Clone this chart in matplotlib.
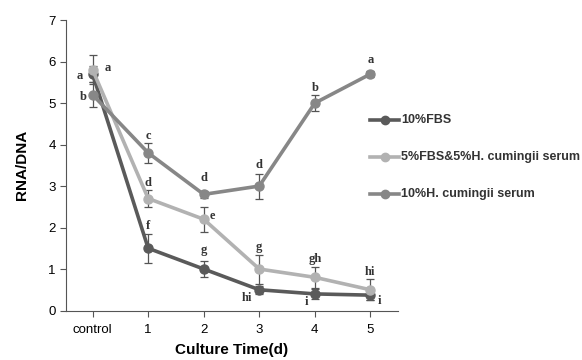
import matplotlib.pyplot as plt
from matplotlib.lines import Line2D

plt.switch_backend('agg')
plt.rcParams['font.family'] = ['Liberation Sans', 'DejaVu Sans']

# datos
days = ['control', '1', '2', '3', '4', '5']
fbs = [5.7, 1.5, 1.0, 0.5, 0.4, 0.37]
fbs_err = [0.2, 0.35, 0.2, 0.1, 0.12, 0.12]
mix = [5.8, 2.7, 2.2, 1.0, 0.8, 0.5]
mix_err = [0.35, 0.2, 0.3, 0.35, 0.25, 0.25]
hc = [5.2, 3.8, 2.8, 3.0, 5.0, 5.7]
hc_err = [0.3, 0.25, 0.08, 0.3, 0.2, 0.08]

fbs_lbl = ['a', 'f', 'g', 'hi', 'i', 'i']
mix_lbl = ['a', 'd', 'e', 'g', 'gh', 'hi']
hc_lbl = ['b', 'c', 'd', 'd', 'b', 'a']

# desplazamiento de las letras (puntos)
fbs_off = [(-9, -1.5), (0, 16), (0, 14), (-9, -6), (-6, -6), (6.5, -4.5)]
mix_off = [(11, 1.5), (0, 11), (6, 2), (0, 16), (0, 13), (0, 12.5)]
hc_off = [(-7, -1.5), (0, 12), (0, 11.5), (0, 15), (0, 11), (0, 10)]

x = list(range(len(days)))

fig = plt.figure(figsize=(5.82, 3.6), dpi=100)
ax = fig.add_axes([0.1134, 0.1375, 0.5706, 0.8065])

series = [
    ('10%FBS', fbs, fbs_err, fbs_lbl, fbs_off, '#5a5a5a'),
    ('5%FBS&5%H. cumingii serum', mix, mix_err, mix_lbl, mix_off, '#b2b2b2'),
    ('10%H. cumingii serum', hc, hc_err, hc_lbl, hc_off, '#878787'),
]

for name, y, err, lbl, off, c in series:
    ax.errorbar(x, y, yerr=err, color=c, lw=2.6, marker='o', ms=6.5,
                ecolor='#555555', elinewidth=0.9, capsize=3, capthick=0.9)
    for xi, yi, l, o in zip(x, y, lbl, off):
        ax.annotate(l, (xi, yi), xytext=o, textcoords='offset points',
                    ha='center', va='center', fontsize=9, fontweight='bold',
                    family='Liberation Serif', color='#333333')

ax.set_xlim(-0.48, 5.5)
ax.set_ylim(0, 7)
ax.set_xticks(x)
ax.set_xticklabels(days)
ax.set_yticks(range(0, 8))
ax.spines['top'].set_visible(False)
ax.spines['right'].set_visible(False)
ax.spines['left'].set_color('#555555')
ax.spines['bottom'].set_color('#555555')
ax.tick_params(labelsize=9.5, color='#555555', length=4, direction='out')
ax.tick_params(axis='x', pad=6)
ax.set_xlabel('Culture Time(d)', fontsize=11, fontweight='bold', labelpad=5)
ax.set_ylabel('RNA/DNA', fontsize=11, fontweight='bold', labelpad=14)

# leyenda a mano
for i, (name, y, err, lbl, off, c) in enumerate(series):
    yy = 1 - (120 + 37 * i) / 360
    fig.add_artist(Line2D([370 / 582, 399 / 582], [yy, yy], color=c, lw=2.6,
                          transform=fig.transFigure))
    fig.add_artist(Line2D([384.5 / 582], [yy], color=c, marker='o', ms=6,
                          transform=fig.transFigure))
    fig.text(401 / 582, yy, name, fontsize=9, fontweight='bold',
             color='#333333', va='center', ha='left')

plt.savefig('out.png')
plt.close()
